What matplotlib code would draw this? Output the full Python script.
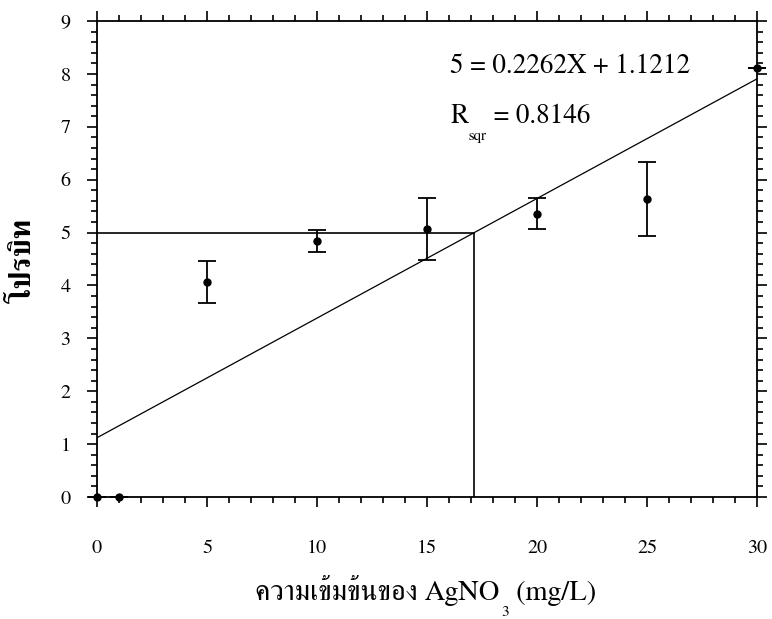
import numpy as np
import matplotlib
matplotlib.use("Agg")
import matplotlib.pyplot as plt
from matplotlib.ticker import MultipleLocator

plt.rcParams["font.family"] = ["FreeSerif", "Liberation Serif", "DejaVu Serif"]

# probit vs. AgNO3 concentration
conc = [0, 1, 5, 10, 15, 20, 25, 30]
probit = [0.0, 0.0, 4.06, 4.84, 5.07, 5.36, 5.63, 8.11]
err = [0, 0, 0.40, 0.21, 0.58, 0.30, 0.70, 0]
slope, intercept = 0.2262, 1.1212
r_sqr = 0.8146
target = 5

fig = plt.figure(figsize=(7.72, 6.19), dpi=100)
ax = fig.add_axes([0.1256, 0.197, 0.855, 0.769])

ax.errorbar(conc, probit, yerr=err, fmt="o", color="black", ms=5,
            elinewidth=1.3, capsize=6.5, capthick=1.3, zorder=3,
            clip_on=False)

xf = np.array([0, 30])
ax.plot(xf, slope * xf + intercept, color="black", lw=0.9)
x50 = (target - intercept) / slope
ax.plot([0, x50], [target, target], color="black", lw=1.2)
ax.plot([x50, x50], [0, target], color="black", lw=1.2)

# fit equation and R_sqr, subscripts hung off the previous piece
ax.text(16.05, 8.02, f"{target} = {slope}X + {intercept}", fontsize=19.5,
        va="baseline", ha="left")
r_t = ax.text(16.05, 7.07, "R", fontsize=19.5, va="baseline", ha="left")
sub_t = ax.annotate("sqr", xy=(1, 0), xycoords=r_t, xytext=(0.5, 0),
                    textcoords="offset points", fontsize=11, va="top")
ax.annotate(f" = {r_sqr}", xy=(1, 0), xycoords=(sub_t, r_t), fontsize=19.5,
            va="bottom", ha="left")

ax.set_xlim(0, 30)
ax.set_ylim(0, 9)
ax.xaxis.set_major_locator(MultipleLocator(5))
ax.xaxis.set_minor_locator(MultipleLocator(1))
ax.yaxis.set_major_locator(MultipleLocator(1))
ax.yaxis.set_minor_locator(MultipleLocator(0.2))
ax.tick_params(which="both", direction="out", top=True, right=True,
               width=1.2, labelsize=14.5)
ax.tick_params(which="major", length=7)
ax.tick_params(which="minor", length=4)
ax.tick_params(axis="x", pad=24)
ax.tick_params(axis="y", pad=12)
for s in ax.spines.values():
    s.set_linewidth(1.3)

# x label: AgNO3 with a dropped subscript
xl = fig.text(0.330, 0.0307, "ความเข้มข้นของ AgNO", fontsize=20.5,
              va="baseline", ha="left")
x3 = ax.annotate("3", xy=(1, 0), xycoords=xl, xytext=(1.5, 0),
                 textcoords="offset points", fontsize=11, va="top",
                 annotation_clip=False)
ax.annotate(" (mg/L)", xy=(1, 0), xycoords=(x3, xl), fontsize=20.5,
            va="bottom", ha="left", annotation_clip=False)

fig.text(0.031, 0.58, "โปรบิท", fontsize=21, fontweight="bold",
         rotation=90, ha="center", va="center")

fig.savefig("out.png", dpi=100)
